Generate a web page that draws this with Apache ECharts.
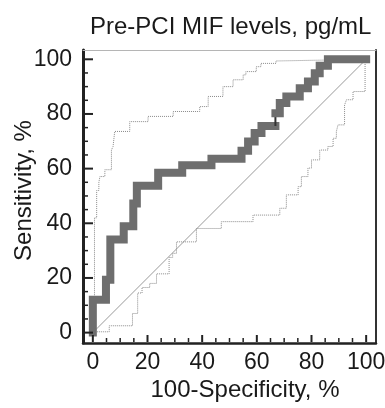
<!DOCTYPE html>
<html>
<head>
<meta charset="utf-8">
<script src="https://cdn.jsdelivr.net/npm/echarts@6/dist/echarts.min.js"></script>
<style>html,body{margin:0;padding:0;background:#fff;}#c{width:385px;height:408px;}</style>
</head>
<body>
<div id="c"></div>
<script>
// ---- data (percent) ----
const titleText = 'Pre-PCI MIF levels, pg/mL';
const xName = '100-Specificity, %';
const yName = 'Sensitivity, %';
const xTicks = [0, 20, 40, 60, 80, 100];
const yTicks = [0, 20, 40, 60, 80, 100];
const minorTicks = [5,10,15,25,30,35,45,50,55,65,70,75,85,90,95];

const rocPartA = [[0,0],[0,12],[4.8,12],[4.8,19.3],[6.4,19.3],[6.4,34.1],[11.3,34.1],[11.3,38.9],[14.8,38.9],[14.8,47.2],[16.1,47.2],[16.1,53.7],[23.9,53.7],[23.9,58.5],[32.7,58.5],[32.7,61.2],[43.4,61.2],[43.4,63.6],[54.4,63.6],[54.4,66.5],[56.8,66.5],[56.8,69.9],[59.2,69.9],[59.2,73],[61.7,73],[61.7,75.6],[66.8,75.6]];
const rocLink = [[66.8,75.6],[66.8,80.3]];
const rocPartB = [[66.8,80.3],[68.4,80.3],[68.4,84],[70.8,84],[70.8,86.4],[75.7,86.4],[75.7,89.4],[78.7,89.4],[78.7,91.9],[81.2,91.9],[81.2,94.9],[83,94.9],[83,97.6],[86,97.6],[86,100],[100,100]];

const upperCI = [[0.6,8],[0.6,42],[1.4,42],[1.4,52],[2.2,52],[2.2,55],[2.6,55],[2.6,57.1],[4.4,57.1],[4.4,59.6],[6.8,59.6],[6.8,66.8],[7.4,66.8],[7.4,68.1],[8,68.1],[8,73.6],[13.5,73.6],[13.5,77.2],[20.2,77.2],[20.2,79.1],[29.4,79.1],[29.4,80.9],[39.1,80.9],[39.1,82.7],[42.2,82.7],[42.2,86.4],[47.6,86.4],[47.6,90],[51.3,90],[51.3,92.5],[55,92.5],[55,94.3],[56,94.3],[56,95.5],[59.8,95.5],[59.8,97.3],[61.5,97.3],[61.5,98.5],[67,98.5],[67,99.4],[68,99.4],[68,100],[100,100]];

const lowerCI = [[0,0.3],[6,0.3],[6,2.5],[14.5,2.5],[14.5,7],[16.4,7],[16.4,14.5],[18,14.5],[18,16.5],[20.8,16.5],[20.8,18],[23.3,18],[23.3,21.5],[27.9,21.5],[27.9,27.5],[29.2,27.5],[29.2,29],[30.6,29],[30.6,33.2],[37.9,33.2],[37.9,38.1],[47,38.1],[47,40.6],[58.6,40.6],[58.6,43],[68.4,43],[68.4,45.5],[70.8,45.5],[70.8,50.4],[75.1,50.4],[75.1,53.4],[76.3,53.4],[76.3,57.1],[78.7,57.1],[78.7,60.2],[80,60.2],[80,63.2],[83,63.2],[83,66.8],[86,66.8],[86,68.1],[87.9,68.1],[87.9,71.1],[89.1,71.1],[89.1,73.6],[89.7,73.6],[89.7,76],[92.1,76],[92.1,83.3],[92.8,83.3],[92.8,85.2],[95.2,85.2],[95.2,88.2],[99.6,88.2],[99.6,100]];

const diagonal = [[0,0],[100,100]];

// ---- chart ----
const FONT = 'Liberation Sans, Arial, sans-serif';
const TXT = '#1a1a1a';
const xMin = -3.6, xMax = 103.6, yMin = -3.8, yMax = 103.4;

const chart = echarts.init(document.getElementById('c'), null, {renderer: 'canvas'});
const baseAxis = (min, max, pos) => ({type: 'value', min: min, max: max, position: pos, splitLine: {show: false}, nameMoveOverlap: false});
const lineAxis = (min, max, pos, color, w) => Object.assign(baseAxis(min, max, pos), {
  axisLine: {show: true, onZero: false, lineStyle: {color: color, width: w}},
  axisTick: {show: false}, axisLabel: {show: false}
});

chart.setOption({
  animation: false,
  backgroundColor: '#fff',
  title: {
    text: titleText, left: 85, top: 10,
    textStyle: {fontFamily: FONT, fontSize: 24, fontWeight: 'normal', color: TXT}
  },
  grid: {left: 83, right: 9, top: 50, bottom: 65, containLabel: false, outerBoundsMode: 'none'},
  xAxis: [
    Object.assign(baseAxis(xMin, xMax, 'bottom'), {
      name: xName, nameLocation: 'middle', nameGap: 35,
      nameTextStyle: {fontFamily: FONT, fontSize: 24, color: TXT, padding: [0, 0, 0, 31]},
      axisLine: {show: true, onZero: false, lineStyle: {color: '#222', width: 2.5}},
      axisTick: {show: false},
      axisLabel: {show: true, customValues: xTicks, fontFamily: FONT, fontSize: 23, color: TXT, margin: 8}
    }),
    lineAxis(xMin, xMax, 'top', '#b5b5b5', 1)
  ],
  yAxis: [
    Object.assign(baseAxis(yMin, yMax, 'left'), {
      name: yName, nameLocation: 'middle', nameGap: 47, nameRotate: 90,
      nameTextStyle: {fontFamily: FONT, fontSize: 24, color: TXT, padding: [0, 0, 0, 12]},
      axisLine: {show: true, onZero: false, lineStyle: {color: '#222', width: 3}},
      axisTick: {show: false},
      axisLabel: {show: true, customValues: yTicks, fontFamily: FONT, fontSize: 23, color: TXT, margin: 11}
    }),
    lineAxis(yMin, yMax, 'right', '#333', 2)
  ],
  series: [
    {type: 'line', data: diagonal, symbol: 'none', z: 1, silent: true,
     lineStyle: {color: '#9a9a9a', width: 1}},
    {type: 'line', data: upperCI, symbol: 'none', z: 2, silent: true,
     lineStyle: {color: '#8a8a8a', width: 1, type: [1, 1]}},
    {type: 'line', data: lowerCI, symbol: 'none', z: 2, silent: true,
     lineStyle: {color: '#8a8a8a', width: 1, type: [1, 1]}},
    {type: 'line', data: rocPartA, symbol: 'none', z: 3, silent: true,
     lineStyle: {color: '#6e6e6e', width: 8, cap: 'square', join: 'miter'}},
    {type: 'line', data: rocLink, symbol: 'none', z: 3, silent: true,
     lineStyle: {color: '#333', width: 2}},
    {type: 'line', data: rocPartB, symbol: 'none', z: 3, silent: true,
     lineStyle: {color: '#6e6e6e', width: 8, cap: 'square', join: 'miter'}}
  ]
});

// inside tick marks, positioned through the chart's own axis scales
const tickGraphics = [];
function addTick(dir, v, len, w) {
  const p = dir === 'x'
    ? chart.convertToPixel({xAxisIndex: 0, yAxisIndex: 0}, [v, yMin])
    : chart.convertToPixel({xAxisIndex: 0, yAxisIndex: 0}, [xMin, v]);
  if (!p) return;
  const shape = dir === 'x'
    ? {x1: p[0], y1: p[1] - 1, x2: p[0], y2: p[1] - 1 - len}
    : {x1: p[0] + 1, y1: p[1], x2: p[0] + 1 + len, y2: p[1]};
  tickGraphics.push({type: 'line', shape: shape, style: {stroke: '#222', lineWidth: w}, z: 100, silent: true});
}
xTicks.forEach(v => addTick('x', v, 7, 2));
minorTicks.forEach(v => addTick('x', v, 4, 1.5));
yTicks.forEach(v => addTick('y', v, 9, 2));
minorTicks.forEach(v => addTick('y', v, 4, 1.5));
chart.setOption({graphic: tickGraphics});
</script>
</body>
</html>
